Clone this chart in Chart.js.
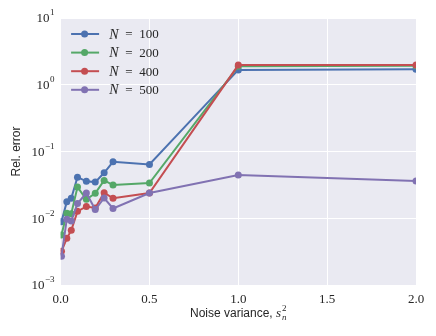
<!DOCTYPE html>
<html>
<head>
<meta charset="utf-8">
<script src="https://cdn.jsdelivr.net/npm/chart.js@4.4.1/dist/chart.umd.min.js"></script>
<style>
  html, body { margin: 0; padding: 0; background: #fff; }
  canvas { display: block; }
</style>
</head>
<body>
<canvas id="graf" width="436" height="336"></canvas>
<script>
const graf = document.getElementById('graf')

// noise variance (x)
const noiseVar = [0.005, 0.035, 0.06, 0.095, 0.145, 0.195, 0.245, 0.295, 0.5, 1.0, 2.0]

const sizes = [100, 200, 400, 500]
const colors = ['#4C72B0', '#55A868', '#C44E52', '#8172B2']

// rel. error for each N
const errN100 = [0.0089, 0.0177, 0.0199, 0.0413, 0.0357, 0.0348, 0.048, 0.070, 0.064, 1.67, 1.71]
const errN200 = [0.0056, 0.0119, 0.0117, 0.0293, 0.0192, 0.0236, 0.0369, 0.0314, 0.0337, 1.90, 1.93]
const errN400 = [0.0032, 0.0050, 0.0066, 0.0127, 0.0150, 0.0143, 0.0242, 0.0199, 0.0239, 1.97, 1.97]
const errN500 = [0.0027, 0.0097, 0.0091, 0.0166, 0.0239, 0.0135, 0.0201, 0.0140, 0.0239, 0.0443, 0.036]

const xTicks = [0, 0.5, 1.0, 1.5, 2.0]
const yExp = [-3, -2, -1, 0, 1]

const allErr = [errN100, errN200, errN400, errN500]

const datasets = allErr.map((err, i) => ({
    label: 'N = ' + sizes[i],
    data: err.map((v, j) => ({ x: noiseVar[j], y: v })),
    borderColor: colors[i],
    backgroundColor: colors[i],
    borderWidth: 2,
    pointRadius: 3.5,
    pointBorderWidth: 0,
    order: sizes.length - i
}))

const serif = '"Liberation Serif", "DejaVu Serif", serif'
const sans = '"Liberation Sans", Arial, sans-serif'
const txtColor = '#262626'

// fundo cinza do seaborn
const fundo = {
    id: 'fundo',
    beforeDraw(chart) {
        const { ctx, chartArea: a } = chart
        ctx.save()
        ctx.fillStyle = '#EAEAF2'
        ctx.fillRect(a.left, a.top, a.right - a.left, a.bottom - a.top)
        ctx.restore()
    }
}

// textos em estilo latex: ticks do eixo y, titulos e legenda
const textos = {
    id: 'textos',
    afterDraw(chart) {
        const { ctx, chartArea: a } = chart
        const yScale = chart.scales.y
        ctx.save()
        ctx.fillStyle = txtColor

        // y tick labels 10^k
        yExp.forEach(e => {
            const py = yScale.getPixelForValue(Math.pow(10, e))
            const exp = e < 0 ? '\u2212' + Math.abs(e) : String(e)
            ctx.font = '9px ' + serif
            const wExp = ctx.measureText(exp).width
            ctx.font = '13px ' + serif
            const wBase = ctx.measureText('10').width
            const right = a.left - 6
            ctx.textBaseline = 'middle'
            ctx.textAlign = 'left'
            ctx.fillText('10', right - wExp - wBase - 0.5, py + 1)
            ctx.font = '9px ' + serif
            ctx.fillText(exp, right - wExp, py - 5)
        })

        // y title
        ctx.save()
        ctx.translate(17, (a.top + a.bottom) / 2)
        ctx.rotate(-Math.PI / 2)
        ctx.font = '12px ' + sans
        ctx.textAlign = 'center'
        ctx.textBaseline = 'middle'
        ctx.fillText('Rel. error', 0, 0)
        ctx.restore()

        // x title: Noise variance, s_n^2
        const t1 = 'Noise variance, '
        ctx.font = '12px ' + sans
        const w1 = ctx.measureText(t1).width
        ctx.font = 'italic 13px ' + serif
        const w2 = ctx.measureText('s').width
        ctx.font = '9px ' + serif
        const w3 = ctx.measureText('2').width
        const total = w1 + w2 + w3 + 1
        let x = (a.left + a.right) / 2 - total / 2
        const base = 317
        ctx.textAlign = 'left'
        ctx.textBaseline = 'alphabetic'
        ctx.font = '12px ' + sans
        ctx.fillText(t1, x, base)
        x += w1
        ctx.font = 'italic 13px ' + serif
        ctx.fillText('s', x, base)
        x += w2 + 1
        ctx.font = '9px ' + serif
        ctx.fillText('2', x, base - 6)
        ctx.font = 'italic 9px ' + serif
        ctx.fillText('n', x, base + 3)

        // legenda
        datasets.forEach((ds, i) => {
            const ry = a.top + 16 + i * 18.6
            const lx = a.left + 10.5
            ctx.strokeStyle = ds.borderColor
            ctx.lineWidth = 2
            ctx.beginPath()
            ctx.moveTo(lx, ry)
            ctx.lineTo(lx + 28, ry)
            ctx.stroke()
            ctx.fillStyle = ds.borderColor
            ctx.beginPath()
            ctx.arc(lx + 13.5, ry, 3.5, 0, Math.PI * 2)
            ctx.fill()

            ctx.fillStyle = txtColor
            ctx.textBaseline = 'middle'
            ctx.font = 'italic 14px ' + serif
            ctx.fillText('N', a.left + 48.7, ry + 1)
            ctx.font = '13px ' + serif
            ctx.fillText('=', a.left + 64.7, ry + 1)
            ctx.fillText(String(sizes[i]), a.left + 78.7, ry + 1)
        })
        ctx.restore()
    }
}

new Chart(graf, {
    type: 'line',
    data: { datasets: datasets },
    options: {
        responsive: false,
        animation: false,
        layout: { padding: { left: 0, right: 20, top: 18, bottom: 0 } },
        plugins: {
            legend: { display: false },
            tooltip: { enabled: false }
        },
        scales: {
            x: {
                type: 'linear',
                min: 0,
                max: 2,
                afterBuildTicks: s => { s.ticks = xTicks.map(v => ({ value: v })) },
                afterFit: s => { s.height = 51 },
                ticks: {
                    callback: v => Number(v).toFixed(1),
                    font: { family: serif, size: 13 },
                    color: txtColor,
                    padding: 7,
                    maxRotation: 0
                },
                grid: { color: '#ffffff', lineWidth: 1, drawTicks: false },
                border: { display: false }
            },
            y: {
                type: 'logarithmic',
                min: 1e-3,
                max: 10,
                afterBuildTicks: s => { s.ticks = yExp.map(e => ({ value: Math.pow(10, e) })) },
                afterFit: s => { s.width = 60.6 },
                ticks: { display: false },
                grid: { color: '#ffffff', lineWidth: 1, drawTicks: false },
                border: { display: false }
            }
        }
    },
    plugins: [fundo, textos]
})
</script>
</body>
</html>
